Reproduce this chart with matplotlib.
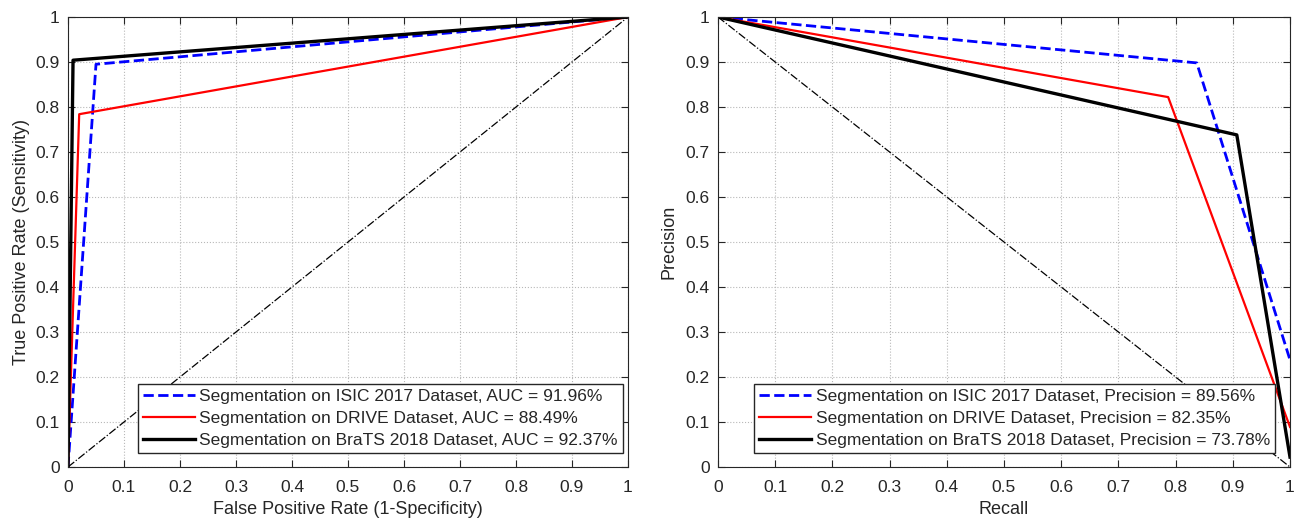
import numpy as np
import matplotlib.pyplot as plt

plt.rcParams['font.family'] = ['Liberation Sans', 'DejaVu Sans']

# ROC curve corner points (FPR, TPR) for each dataset
labels = ['Segmentation on ISIC 2017 Dataset', 'Segmentation on DRIVE Dataset',
          'Segmentation on BraTS 2018 Dataset']
auc = ['91.96%', '88.49%', '92.37%']
prec = ['89.56%', '82.35%', '73.78%']
roc_fpr = [0.05, 0.02, 0.009]
roc_tpr = [0.895, 0.784, 0.904]

# PR curve corner points (recall, precision) and end precision at recall = 1
pr_rec = [0.837, 0.787, 0.907]
pr_prec = [0.898, 0.822, 0.738]
pr_end = [0.238, 0.089, 0.022]

colors = ['#0000ff', '#ff0000', '#000000']
styles = ['--', '-', '-']
widths = [2.0, 1.6, 2.4]
txt = '#262626'

fig = plt.figure(figsize=(12.95, 5.21), dpi=100)
ax1 = fig.add_axes([68/1295, 54/521, 560/1295, 450/521])
ax2 = fig.add_axes([718/1295, 54/521, 572/1295, 450/521])

for ax in (ax1, ax2):
    ax.set_xlim(0, 1)
    ax.set_ylim(0, 1)
    ax.set_xticks(np.arange(0, 1.01, 0.1))
    ax.set_yticks(np.arange(0, 1.01, 0.1))
    ax.set_xticklabels(['0'] + ['%.1f' % v for v in np.arange(0.1, 0.95, 0.1)] + ['1'])
    ax.set_yticklabels(['0'] + ['%.1f' % v for v in np.arange(0.1, 0.95, 0.1)] + ['1'])
    ax.grid(True, linestyle=':', color='#b8b8b8', linewidth=0.8)
    ax.tick_params(direction='in', top=True, right=True, labelsize=12.5, colors=txt,
                   length=5, width=0.8)
    ax.tick_params(axis='x', pad=9)
    ax.tick_params(axis='y', pad=6)
    for s in ax.spines.values():
        s.set_color(txt)
        s.set_linewidth(0.8)

# ROC
for i in range(3):
    ax1.plot([0, roc_fpr[i], 1], [0, roc_tpr[i], 1], styles[i], color=colors[i],
             lw=widths[i], label='%s, AUC = %s' % (labels[i], auc[i]))
ax1.plot([0, 1], [0, 1], '-.', color='black', lw=0.9)
ax1.set_xlabel('False Positive Rate (1-Specificity)', fontsize=13, color=txt, labelpad=5)
ax1.set_ylabel('True Positive Rate (Sensitivity)', fontsize=13, color=txt, labelpad=4)
leg = ax1.legend(loc='lower right', bbox_to_anchor=(0.991, 0.031), fontsize=12.5,
                 fancybox=False, framealpha=1, edgecolor=txt, borderpad=0.3,
                 labelspacing=0.38, handlelength=3.0, handletextpad=0.25, borderaxespad=0)
for t in leg.get_texts():
    t.set_color(txt)

# PR
for i in range(3):
    ax2.plot([0, pr_rec[i], 1], [1, pr_prec[i], pr_end[i]], styles[i], color=colors[i],
             lw=widths[i], label='%s, Precision = %s' % (labels[i], prec[i]))
ax2.plot([0, 1], [1, 0], '-.', color='black', lw=0.9)
ax2.set_xlabel('Recall', fontsize=13, color=txt, labelpad=5)
ax2.set_ylabel('Precision', fontsize=13, color=txt, labelpad=6)
leg = ax2.legend(loc='lower right', bbox_to_anchor=(0.974, 0.031), fontsize=12.5,
                 fancybox=False, framealpha=1, edgecolor=txt, borderpad=0.3,
                 labelspacing=0.38, handlelength=3.0, handletextpad=0.25, borderaxespad=0)
for t in leg.get_texts():
    t.set_color(txt)

fig.savefig('out.png', dpi=100)
